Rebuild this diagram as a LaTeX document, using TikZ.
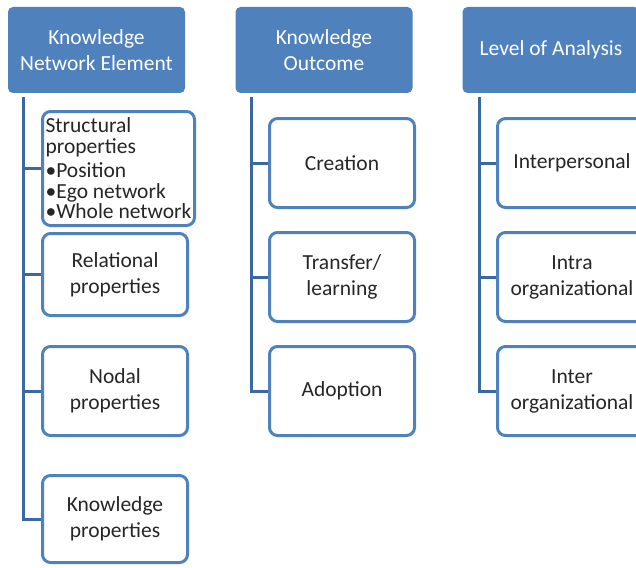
\documentclass[tikz,border=0pt]{standalone}
\usepackage{fontspec}
\setmainfont{Carlito}
\usetikzlibrary{positioning}
\definecolor{HeadBlue}{RGB}{79,129,189}
\definecolor{SpineBlue}{RGB}{58,104,160}
\definecolor{TextGray}{RGB}{38,38,38}

\begin{document}
\begin{tikzpicture}[x=1pt, y=-1pt,
  node distance=22pt, every node/.style={font=\fontsize{21.5}{26}\selectfont},
  header/.style={fill=HeadBlue, rounded corners=5pt, text=white, align=center, minimum width=177pt, minimum height=86pt, inner sep=2pt},
  item/.style={draw=HeadBlue, line width=3pt, rounded corners=8pt, fill=white, text=TextGray, align=center, minimum width=145pt, minimum height=89pt, inner sep=2pt},
  branch/.style={draw=SpineBlue, line width=3pt}
]
\clip (0,0) rectangle (636,567);
\fill[white] (0,0) rectangle (636,567);

% Column headers
\node[header] (element) at (96.5,50) {Knowledge\\Network Element};
\node[header] (outcome) at (324,50) {Knowledge\\Outcome};
\node[header] (level) at (551,50) {Level of Analysis};

% Left column: network elements
\node[item, minimum width=152pt, minimum height=114pt, align=left, font=\fontsize{21.5}{20.5}\selectfont] (structural) at (118.5,168.5)
  {Structural\\properties\\[4pt]•Position\\•Ego network\\•Whole network};
\node[item, minimum height=82pt] (relational) at (115,274.5) {Relational\\properties};
\node[item] (nodal) at (115,391) {Nodal\\properties};
\node[item, minimum height=87pt] (knowprop) at (115,519) {Knowledge\\properties};

% Middle column: outcomes
\node[item] (creation) at (342,163) {Creation};
\node[item, below=of creation] (transfer) {Transfer/\\learning};
\node[item, below=of transfer] (adoption) {Adoption};

% Right column: levels
\node[item, minimum width=149pt] (inter) at (572,163) {Interpersonal};
\node[item, minimum width=149pt, below=of inter] (intraorg) {Intra\\organizational};
\node[item, minimum width=149pt, below=of intraorg] (interorg) {Inter\\organizational};

% Spines and branches
\coordinate (element-spine) at ([xshift=15.5pt, yshift=-4pt]element.south west);
\coordinate (outcome-spine) at ([xshift=16pt, yshift=-4pt]outcome.south west);
\coordinate (level-spine) at ([xshift=17pt, yshift=-4pt]level.south west);

\draw[branch] (element-spine) |- (knowprop.west);
\foreach \n in {structural, relational, nodal}
  \draw[branch] (element-spine |- \n.west) -- (\n.west);

\draw[branch] (outcome-spine) |- (adoption.west);
\foreach \n in {creation, transfer}
  \draw[branch] (outcome-spine |- \n.west) -- (\n.west);

\draw[branch] (level-spine) |- (interorg.west);
\foreach \n in {inter, intraorg}
  \draw[branch] (level-spine |- \n.west) -- (\n.west);

\end{tikzpicture}
\end{document}
